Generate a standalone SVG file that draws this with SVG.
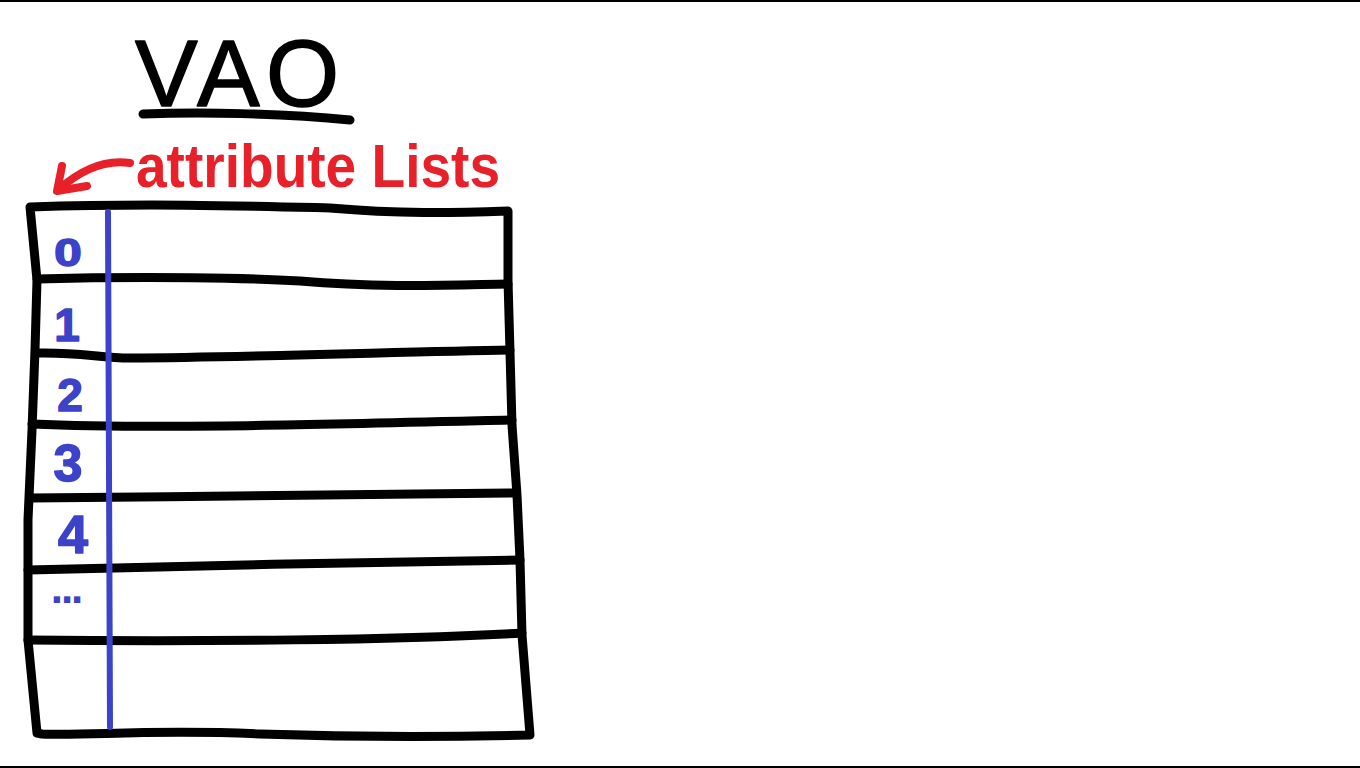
<svg xmlns="http://www.w3.org/2000/svg" width="1360" height="768" viewBox="0 0 1360 768">
<style>
.ink{fill:none;stroke:#000;stroke-width:9;stroke-linecap:round;stroke-linejoin:round}
.red{fill:none;stroke:#e8202a;stroke-width:8;stroke-linecap:round;stroke-linejoin:round}
.num{font-family:"Liberation Sans",Arial,sans-serif;font-weight:bold;fill:#3d43c8;stroke:#3d43c8;stroke-width:1.5;stroke-linejoin:round;text-anchor:middle}
</style>
<rect x="0" y="0" width="1360" height="768" fill="#fff"/>
<rect x="0" y="0" width="1360" height="2" fill="#000"/>
<rect x="0" y="766" width="1360" height="2" fill="#000"/>
<g id="title">
<text x="135" y="106" font-family="Liberation Sans, Arial, sans-serif" font-size="94" textLength="204" lengthAdjust="spacing" fill="#000" stroke="#000" stroke-width="1.5" stroke-linejoin="round">VAO</text>
<path class="ink" d="M143,114 C200,112 280,113 350,120"/>
</g>
<g id="label">
<text x="136" y="187" font-family="Liberation Sans, Arial, sans-serif" font-weight="bold" font-size="62" textLength="364" lengthAdjust="spacingAndGlyphs" fill="#e8202a">attribute Lists</text>
</g>
<g id="connectors">
<path class="red" d="M130,163 C110,160 85,166 58,190"/>
<path class="red" d="M62,166 L57,191 L87,186"/>
</g>
<g id="table">
<path class="ink" d="M30,207 C150,203 250,206 330,208 C400,214 450,213 508,211 L508,280 L512,425 L517,495 L520,560 L522,635 L530,735 C450,737 350,737 260,734 C150,729 90,736 42,734 L37,733 L28,640 L28,520 L32,430 L35,350 L37,280 Z"/>
<path class="ink" d="M37,279 C150,276 250,278 300,281 C380,288 450,285 508,284"/>
<path class="ink" d="M37,353 C80,352 100,358 130,358 C250,357 400,352 510,350"/>
<path class="ink" d="M32,424 C150,429 300,425 512,420"/>
<path class="ink" d="M30,498 C200,497 400,493 515,493"/>
<path class="ink" d="M28,570 C150,566 400,562 520,560"/>
<path class="ink" d="M28,640 C200,642 400,640 522,633"/>
<path d="M108,212 L110,727" fill="none" stroke="#3d43c8" stroke-width="6" stroke-linecap="round"/>
</g>
<g id="row0"><text class="num" x="68" y="266" font-size="38" transform="translate(68 0) scale(1.3 1) translate(-68 0)">0</text></g>
<g id="row1"><text class="num" x="67" y="341" font-size="46">1</text></g>
<g id="row2"><text class="num" x="70" y="411" font-size="46">2</text></g>
<g id="row3"><text class="num" x="68" y="481" font-size="52">3</text></g>
<g id="row4"><text class="num" x="73" y="553" font-size="54">4</text></g>
<g id="row5"><text x="66" y="603" font-family="Liberation Sans, Arial, sans-serif" font-weight="bold" font-size="44" letter-spacing="-2" fill="#3d43c8" text-anchor="middle">...</text></g>
</svg>
